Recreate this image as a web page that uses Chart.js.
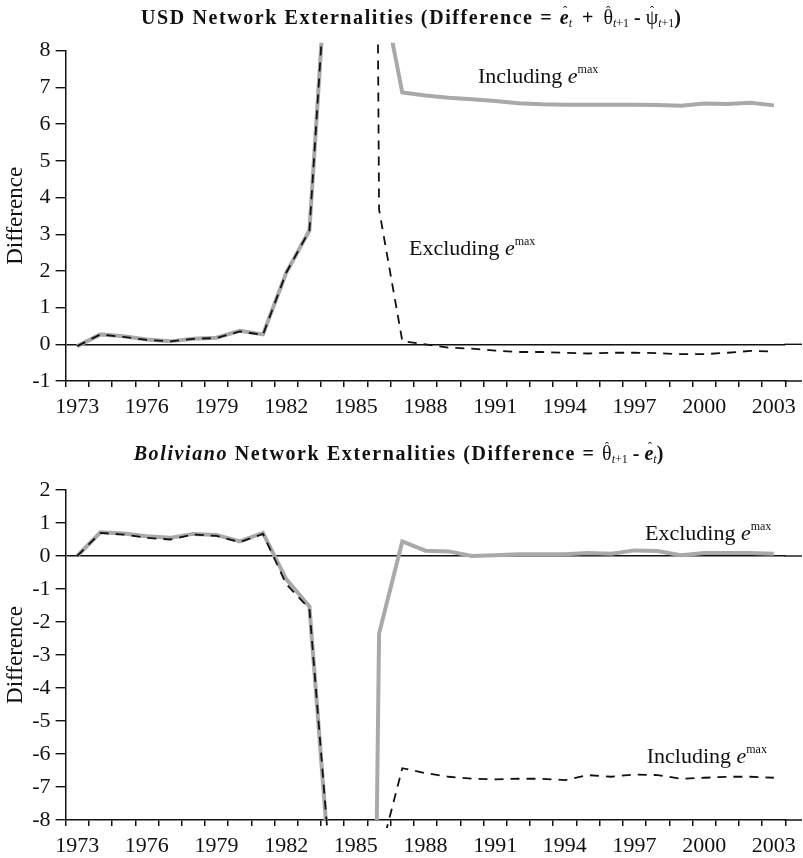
<!DOCTYPE html>
<html><head><meta charset="utf-8">
<script src="https://cdn.jsdelivr.net/npm/chart.js@4.4.1/dist/chart.umd.min.js"></script>
<style>
html,body{margin:0;padding:0;background:#fff;}
#wrap{position:relative;width:803px;height:858px;overflow:hidden;}
#c1box{position:absolute;left:0;top:0;width:803px;height:440px;}
#c2box{position:absolute;left:0;top:440px;width:803px;height:418px;}
</style></head><body>
<div id="wrap"><div id="c1box"><canvas id="c1"></canvas></div><div id="c2box"><canvas id="c2"></canvas></div></div>
<script>
// ---------------- data ----------------
const years = [1973,1974,1975,1976,1977,1978,1979,1980,1981,1982,1983,1984,1985,1986,1987,1988,
               1989,1990,1991,1992,1993,1994,1995,1996,1997,1998,1999,2000,2001,2002,2003];
const xTickYears = [1973,1976,1979,1982,1985,1988,1991,1994,1997,2000,2003];

// USD panel
const usdIncluding = [-0.05,0.27,0.22,0.13,0.08,0.15,0.18,0.37,0.27,1.95,3.1,13.0,100,10.1,6.86,6.78,
                      6.72,6.68,6.63,6.57,6.54,6.53,6.53,6.53,6.53,6.52,6.50,6.56,6.55,6.58,6.51];
const usdExcluding = [-0.05,0.27,0.20,0.12,0.08,0.15,0.17,0.35,0.26,1.95,3.1,13.0,100,3.67,0.09,0.0,
                      -0.09,-0.12,-0.17,-0.21,-0.21,-0.23,-0.25,-0.23,-0.23,-0.24,-0.27,-0.27,-0.23,-0.18,-0.20];
const usdYTicks = [-1,0,1,2,3,4,5,6,7,8];

// Boliviano panel
const bolExcluding = [0.0,0.72,0.68,0.60,0.55,0.67,0.64,0.44,0.70,-0.70,-1.53,-10.7,-60,-2.35,0.44,0.16,
                      0.14,0.0,0.02,0.05,0.05,0.05,0.09,0.07,0.17,0.15,0.02,0.09,0.09,0.09,0.07];
const bolIncluding = [0.0,0.70,0.65,0.55,0.50,0.65,0.61,0.42,0.67,-0.85,-1.60,-10.3,-60,-9.15,-6.43,-6.58,
                      -6.69,-6.75,-6.77,-6.75,-6.75,-6.79,-6.64,-6.69,-6.62,-6.64,-6.75,-6.72,-6.69,-6.69,-6.72];
const bolYTicks = [-8,-7,-6,-5,-4,-3,-2,-1,0,1,2];

// ---------------- styling ----------------
const SERIF = '"Liberation Serif", "Times New Roman", serif';
const INK = '#111';
const GREY = '#a7a9ac';
Chart.defaults.font.family = SERIF;

const F = (spec) => spec + ' ' + SERIF;
const TB = F('bold 20px');
const SUBI = F('italic 12px');
const SUB = F('12px');

function setLS(ctx, v) { if ('letterSpacing' in ctx) ctx.letterSpacing = v + 'px'; }

function drawRuns(ctx, runs, x, base, align) {
  ctx.textBaseline = 'alphabetic';
  ctx.textAlign = 'left';
  ctx.fillStyle = INK;
  const widths = runs.map(r => { ctx.font = r.font; setLS(ctx, r.ls || 0); return ctx.measureText(r.t).width; });
  const total = widths.reduce((a, b) => a + b, 0);
  let cx = align === 'center' ? x - total / 2 : x;
  runs.forEach((r, i) => {
    ctx.font = r.font; setLS(ctx, r.ls || 0);
    ctx.fillText(r.t, cx, base + (r.dy || 0));
    if (r.hat) {
      setLS(ctx, 0);
      ctx.font = F('13px');
      ctx.textAlign = 'center';
      ctx.fillText('\u02C6', cx + widths[i] / 2 + (r.hx || 0), base - 9);
      ctx.textAlign = 'left';
    }
    cx += widths[i];
  });
  setLS(ctx, 0);
}

const topTitle = [
  {t: 'USD Network Externalities (Difference = ', font: TB, ls: 1.6},
  {t: 'e', font: F('italic bold 20px'), hat: true, hx: 1},
  {t: 't', font: SUBI, dy: 3},
  {t: '  +  ', font: TB},
  {t: '\u03B8', font: F('20px'), hat: true},
  {t: 't', font: SUBI, dy: 3}, {t: '+1', font: SUB, dy: 3},
  {t: ' - ', font: TB},
  {t: '\u03C8', font: F('20px'), hat: true},
  {t: 't', font: SUBI, dy: 3}, {t: '+1', font: SUB, dy: 3},
  {t: ')', font: TB}
];
const bottomTitle = [
  {t: 'Boliviano', font: F('italic bold 20px'), ls: 1.6},
  {t: ' Network Externalities (Difference = ', font: TB, ls: 1.6},
  {t: '\u03B8', font: F('20px'), hat: true},
  {t: 't', font: SUBI, dy: 3}, {t: '+1', font: SUB, dy: 3},
  {t: ' - ', font: TB},
  {t: 'e', font: F('italic bold 20px'), hat: true, hx: 1},
  {t: 't', font: SUBI, dy: 3},
  {t: ')', font: TB}
];
const emaxLabel = (word) => [
  {t: word + ' ', font: F('22px')},
  {t: 'e', font: F('italic 22px')},
  {t: 'max', font: F('12px'), dy: -10}
];

function overlay(cfg) {
  return {
    id: 'overlay_' + cfg.id,
    afterDraw(chart) {
      const ctx = chart.ctx, ca = chart.chartArea, ys = chart.scales.y;
      ctx.save();
      ctx.strokeStyle = INK;
      ctx.lineWidth = 1.5;
      ctx.beginPath();
      ctx.moveTo(ca.right - 1, ca.bottom);
      ctx.lineTo(802, ca.bottom);
      ctx.stroke();
      ctx.lineWidth = 1.4;
      const y0 = ys.getPixelForValue(0);
      ctx.beginPath();
      ctx.moveTo(ca.right - 1, y0);
      ctx.lineTo(802, y0);
      ctx.stroke();
      drawRuns(ctx, cfg.title, cfg.titleX, cfg.titleBase - cfg.offY, 'center');
      cfg.labels.forEach(l => drawRuns(ctx, l.runs, l.x, l.base - cfg.offY, 'left'));
      ctx.restore();
    }
  };
}

function makeChart(cfg) {
  return new Chart(document.getElementById(cfg.id), {
    type: 'line',
    data: {
      labels: years,
      datasets: [
        {label: cfg.dashedName, data: cfg.dashed, borderColor: INK, borderWidth: 1.8, borderDash: [9, 7],
         pointRadius: 0, tension: 0, fill: false, order: 0, clip: cfg.dashedClip},
        {label: cfg.solidName, data: cfg.solid, borderColor: GREY, borderWidth: 4,
         pointRadius: 0, tension: 0, fill: false, order: 1, clip: cfg.solidClip}
      ]
    },
    options: {
      responsive: true, maintainAspectRatio: false, animation: false, events: [],
      layout: {padding: {top: cfg.padTop, right: 10.5, left: 0, bottom: 0}},
      plugins: {legend: {display: false}, tooltip: {enabled: false}, title: {display: false}},
      scales: {
        x: {
          type: 'category', offset: true,
          grid: {offset: true, drawOnChartArea: false, tickLength: 6, tickColor: INK, lineWidth: 1.5},
          border: {display: true, color: INK, width: 1.5},
          ticks: {autoSkip: false, maxRotation: 0, minRotation: 0, padding: 7, color: INK,
                  font: {family: SERIF, size: 22},
                  callback: (v, i) => xTickYears.includes(years[i]) ? String(years[i]) : ''},
          afterFit: s => { s.height = cfg.xHeight; }
        },
        y: {
          min: cfg.min, max: cfg.max,
          afterBuildTicks: s => { s.ticks = cfg.yTicks.map(v => ({value: v})); },
          grid: {drawOnChartArea: true, tickLength: 10, tickColor: INK, lineWidth: 1.4,
                 color: c => (c.tick && c.tick.value === 0) ? INK : 'rgba(0,0,0,0)'},
          border: {display: true, color: INK, width: 1.5},
          ticks: {padding: 5, color: INK, font: {family: SERIF, size: 22}, callback: v => String(v)},
          title: {display: true, text: 'Difference', color: INK, font: {family: SERIF, size: 23},
                  padding: {top: 2, bottom: 0}},
          afterFit: s => { s.width = 65.6; }
        }
      }
    },
    plugins: [overlay(cfg)]
  });
}

makeChart({
  id: 'c1', offY: 0, padTop: 50.7, xHeight: 59, min: -1, max: 8, yTicks: usdYTicks,
  solid: usdIncluding, dashed: usdExcluding,
  solidName: 'Including e max', dashedName: 'Excluding e max',
  solidClip: {left: 0, top: 8, right: 0, bottom: 0},
  dashedClip: {left: 0, top: 8, right: 0, bottom: 0},
  title: topTitle, titleX: 411, titleBase: 24,
  labels: [
    {runs: emaxLabel('Including'), x: 478, base: 82.7},
    {runs: emaxLabel('Excluding'), x: 409, base: 255}
  ]
});

makeChart({
  id: 'c2', offY: 440, padTop: 50, xHeight: 38, min: -8, max: 2, yTicks: bolYTicks,
  solid: bolExcluding, dashed: bolIncluding,
  solidName: 'Excluding e max', dashedName: 'Including e max',
  solidClip: {left: 0, top: 0, right: 0, bottom: 0},
  dashedClip: {left: 0, top: 0, right: 0, bottom: 8},
  title: bottomTitle, titleX: 398.5, titleBase: 460,
  labels: [
    {runs: emaxLabel('Excluding'), x: 645, base: 540},
    {runs: emaxLabel('Including'), x: 646.7, base: 763.3}
  ]
});
</script>
</body></html>
